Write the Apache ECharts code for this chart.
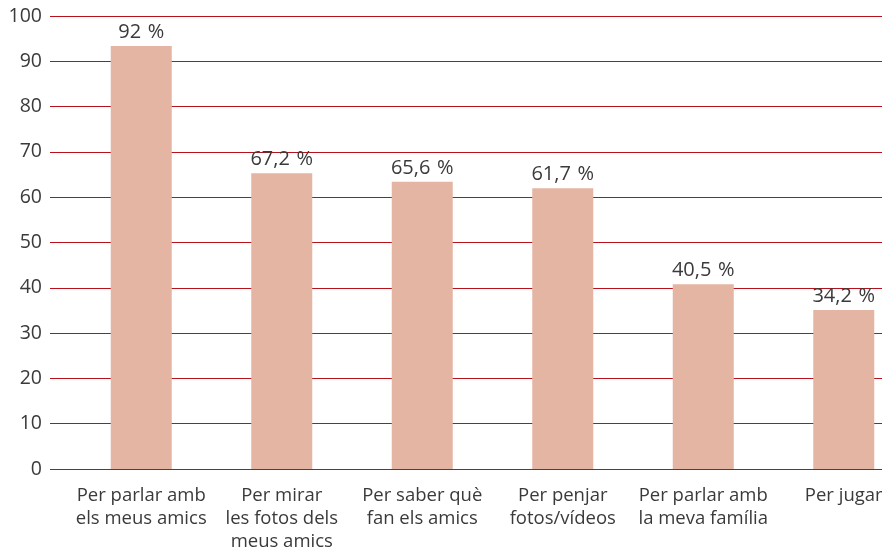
<!DOCTYPE html>
<html><head><meta charset="utf-8">
<script src="https://cdn.jsdelivr.net/npm/echarts@6/dist/echarts.min.js"></script>
<style>html,body{margin:0;padding:0;background:#fff}#c{width:882px;height:556px}</style>
</head><body><div id="c"></div>
<script>
const categories = ["Per parlar amb\nels meus amics", "Per mirar\nles fotos dels\nmeus amics", "Per saber què\nfan els amics", "Per penjar\nfotos/vídeos", "Per parlar amb\nla meva família", "Per jugar"];
const values = [93.4, 65.3, 63.4, 62.0, 40.8, 35.1];
const valueLabels = ["92 %", "67,2 %", "65,6 %", "61,7 %", "40,5 %", "34,2 %"];
const yTicks = [0, 10, 20, 30, 40, 50, 60, 70, 80, 90, 100];

const FONT = "Open Sans";
const chart = echarts.init(document.getElementById('c'), null, {renderer: 'canvas'});
chart.setOption({
  animation: false,
  grid: [
    {left: 50, right: 0, top: 16, bottom: 87, outerBoundsMode: 'none'},
    {left: 71, width: 843, top: 16, bottom: 87, outerBoundsMode: 'none'}
  ],
  xAxis: [
    {gridIndex: 0, type: 'category', data: categories, show: false},
    {gridIndex: 1, type: 'category', data: categories,
     axisLine: {show: false}, axisTick: {show: false},
     axisLabel: {interval: 0, color: '#3a3a3a', fontFamily: FONT, fontSize: 18.5, lineHeight: 23, margin: 15}}
  ],
  yAxis: [
    {gridIndex: 0, type: 'value', min: yTicks[0], max: yTicks[yTicks.length - 1], interval: 10,
     axisLine: {show: false}, axisTick: {show: false},
     axisLabel: {color: '#3a3a3a', fontFamily: FONT, fontSize: 19.5, margin: 8},
     splitLine: {show: true, lineStyle: {color: '#b5121b', width: 1}}},
    {gridIndex: 1, type: 'value', min: 0, max: 100, interval: 10, show: false, splitLine: {show: false}}
  ],
  series: [{
    type: 'bar', xAxisIndex: 1, yAxisIndex: 1,
    data: values, barWidth: 61,
    itemStyle: {color: '#e4b5a2'},
    label: {show: true, position: 'top', distance: 4, color: '#3a3a3a', fontFamily: FONT, fontSize: 20,
            formatter: p => valueLabels[p.dataIndex].replace(' %', '\u2009\u2009%')}
  }]
});
</script></body></html>
